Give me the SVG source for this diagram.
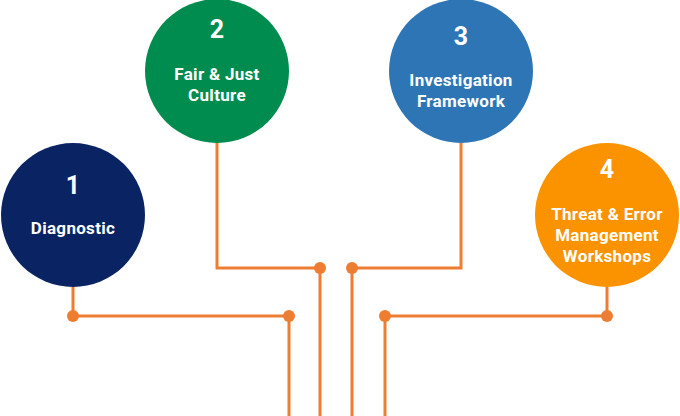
<svg xmlns="http://www.w3.org/2000/svg" width="680" height="416" viewBox="0 0 680 416">
<style>
.num{font-family:Roboto,"Liberation Sans",sans-serif;font-weight:700;font-size:25px;fill:#fff;text-anchor:middle}
.lbl{font-family:Roboto,"Liberation Sans",sans-serif;font-weight:700;font-size:17px;letter-spacing:0.3px;fill:#fff;text-anchor:middle}
.wire{fill:none;stroke:#ED7D31;stroke-width:3}
.dot{fill:#ED7D31}
</style>
<rect width="680" height="416" fill="#fff"/>
<g id="connectors">
<polyline class="wire" points="217,143 217,268 320,268 320,416"/>
<polyline class="wire" points="461,143 461,268 352,268 352,416"/>
<polyline class="wire" points="73,287 73,316 289,316 289,416"/>
<polyline class="wire" points="607,287 607,316 385,316 385,416"/>
<circle class="dot" cx="320" cy="268" r="6"/>
<circle class="dot" cx="352" cy="268" r="6"/>
<circle class="dot" cx="73" cy="316" r="6"/>
<circle class="dot" cx="289" cy="316" r="6"/>
<circle class="dot" cx="385" cy="316" r="6"/>
<circle class="dot" cx="607" cy="316" r="6"/>
</g>
<g id="node1">
<circle cx="73" cy="215" r="72" fill="#0A2463"/>
<text class="num" x="73" y="194">1</text>
<text class="lbl" x="73" y="234">Diagnostic</text>
</g>
<g id="node2">
<circle cx="217" cy="71" r="72" fill="#008C4F"/>
<text class="num" x="217" y="38">2</text>
<text class="lbl" x="217" y="80">Fair &amp; Just</text>
<text class="lbl" x="217" y="101">Culture</text>
</g>
<g id="node3">
<circle cx="461" cy="71" r="72" fill="#2E75B6"/>
<text class="num" x="461" y="45">3</text>
<text class="lbl" x="461" y="86">Investigation</text>
<text class="lbl" x="461" y="107">Framework</text>
</g>
<g id="node4">
<circle cx="607" cy="215" r="72" fill="#FB9300"/>
<text class="num" x="607" y="178">4</text>
<text class="lbl" x="607" y="220">Threat &amp; Error</text>
<text class="lbl" x="607" y="241">Management</text>
<text class="lbl" x="607" y="262">Workshops</text>
</g>
</svg>
